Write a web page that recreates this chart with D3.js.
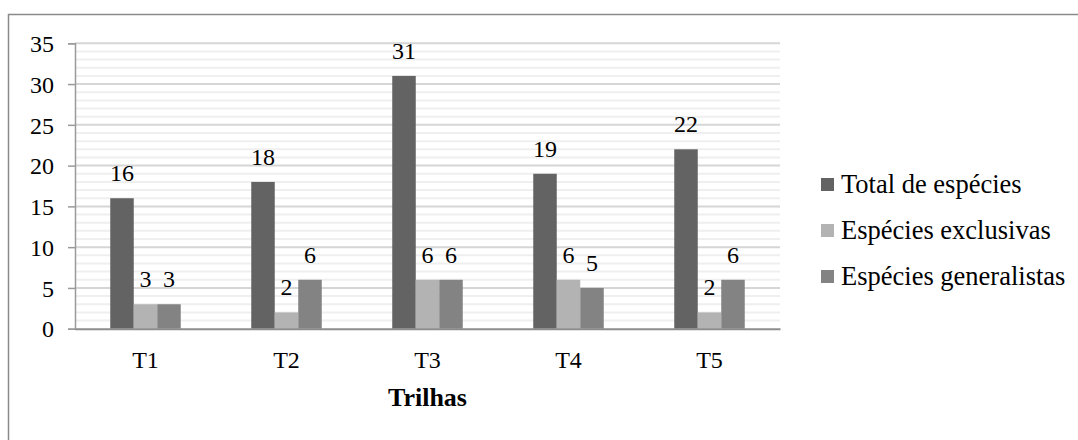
<!DOCTYPE html>
<html>
<head>
<meta charset="utf-8">
<script src="https://cdn.jsdelivr.net/npm/d3@7/dist/d3.min.js"></script>
<style>
  html, body { margin: 0; padding: 0; background: #fff; }
  svg { display: block; }
</style>
</head>
<body>
<svg id="chart" width="1078" height="440"></svg>
<script>
// Trails and species counts per trail
const categories = ["T1", "T2", "T3", "T4", "T5"];
const seriesNames = ["Total de espécies", "Espécies exclusivas", "Espécies generalistas"];
const totalEspecies = [16, 18, 31, 19, 22];
const especiesExclusivas = [3, 2, 6, 6, 2];
const especiesGeneralistas = [3, 6, 6, 5, 6];
const yTicks = [0, 5, 10, 15, 20, 25, 30, 35];
const axisTitle = "Trilhas";

const seriesValues = [totalEspecies, especiesExclusivas, especiesGeneralistas];
const colors = ["#636363", "#b3b3b3", "#838383"];
const FAMILY = '"Liberation Serif", "Times New Roman", serif';
const FONT = 24;

const svg = d3.select("#chart");

// outer frame
svg.append("rect")
  .attr("x", 8.5).attr("y", 14.5)
  .attr("width", 1100).attr("height", 460)
  .attr("fill", "none").attr("stroke", "#8a8a8a").attr("stroke-width", 1.5);

const plot = { left: 75, right: 780, top: 43.3, bottom: 328.7 };

const x = d3.scaleBand().domain(categories).range([plot.left, plot.right]).paddingInner(0.5).paddingOuter(0.25);
const xs = d3.scaleBand().domain(d3.range(seriesNames.length)).range([0, x.bandwidth()]);
const y = d3.scaleLinear().domain([0, 35]).range([plot.bottom, plot.top]);

// minor grid (every unit)
const g = svg.append("g");
g.selectAll("line.minor")
  .data(d3.range(1, 35).filter(v => v % 5 !== 0))
  .join("line")
  .attr("x1", plot.left).attr("x2", plot.right)
  .attr("y1", d => y(d)).attr("y2", d => y(d))
  .attr("stroke", "#efefef").attr("stroke-width", 2);

// major grid
g.selectAll("line.major")
  .data(yTicks.filter(v => v > 0))
  .join("line")
  .attr("x1", plot.left).attr("x2", plot.right)
  .attr("y1", d => y(d)).attr("y2", d => y(d))
  .attr("stroke", "#d6d6d6").attr("stroke-width", 2);

// bars
const groups = svg.append("g").selectAll("g")
  .data(categories)
  .join("g")
  .attr("transform", d => `translate(${x(d)},0)`);

groups.selectAll("rect")
  .data((d, i) => seriesValues.map((s, k) => ({ k, v: s[i] })))
  .join("rect")
  .attr("x", d => xs(d.k))
  .attr("width", xs.bandwidth())
  .attr("y", d => y(d.v))
  .attr("height", d => y(0) - y(d.v))
  .attr("fill", d => colors[d.k]);

// value labels
groups.selectAll("text")
  .data((d, i) => seriesValues.map((s, k) => ({ k, v: s[i] })))
  .join("text")
  .attr("x", d => xs(d.k) + xs.bandwidth() / 2)
  .attr("y", d => y(d.v) - 17)
  .attr("text-anchor", "middle")
  .attr("font-size", FONT)
  .style("font-family", FAMILY)
  .attr("fill", "#000")
  .text(d => d.v);

// y axis
const yAxis = svg.append("g")
  .attr("transform", `translate(${plot.left},0)`)
  .call(d3.axisLeft(y).tickValues(yTicks).tickSize(7).tickPadding(14));
yAxis.select(".domain").attr("stroke", "#9a9a9a").attr("stroke-width", 1.5);
yAxis.selectAll(".tick line").attr("stroke", "#9a9a9a").attr("stroke-width", 1.5);
yAxis.selectAll(".tick text")
  .style("font-family", FAMILY)
  .attr("font-size", FONT).attr("fill", "#000").attr("dy", "0.34em");

// x axis
const xAxis = svg.append("g")
  .attr("transform", `translate(0,${plot.bottom})`)
  .call(d3.axisBottom(x).tickSize(0).tickPadding(22));
xAxis.select(".domain").attr("stroke", "#8c8c8c").attr("stroke-width", 2);
xAxis.selectAll(".tick text")
  .style("font-family", FAMILY)
  .attr("font-size", FONT).attr("fill", "#000");

// axis title
svg.append("text")
  .attr("x", (plot.left + plot.right) / 2)
  .attr("y", 406)
  .attr("text-anchor", "middle")
  .attr("font-size", 26)
  .attr("font-weight", "bold")
  .style("font-family", FAMILY)
  .text(axisTitle);

// legend
const legend = svg.append("g").attr("transform", "translate(821,0)");
const legendY = d3.scalePoint().domain(seriesNames).range([178, 270]);
const items = legend.selectAll("g").data(seriesNames).join("g")
  .attr("transform", d => `translate(0,${legendY(d)})`);
items.append("rect").attr("width", 13).attr("height", 13)
  .attr("fill", (d, i) => colors[i]);
items.append("text").attr("x", 20).attr("y", 15)
  .style("font-family", FAMILY)
  .attr("font-size", 26.5).text(d => d);
</script>
</body>
</html>
